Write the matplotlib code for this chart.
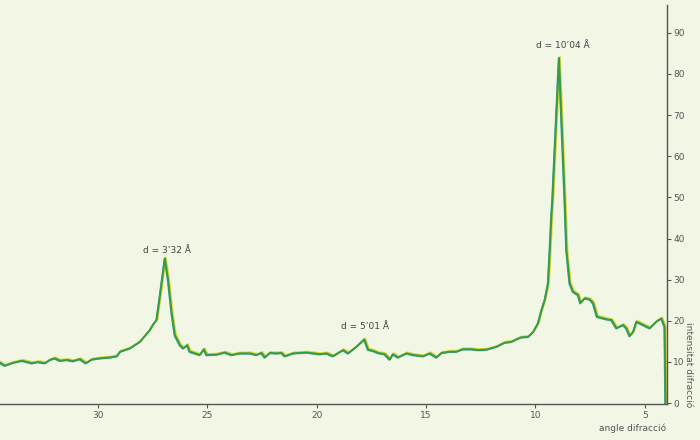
import matplotlib
matplotlib.use("Agg")
import matplotlib.pyplot as plt
import matplotlib.transforms as mtransforms

# diffraction angle (2theta, degrees) and intensity
angle = [34.48, 34.25, 33.89, 33.47, 33.02, 32.74, 32.42, 32.19, 31.97, 31.74,
         31.42, 31.14, 30.82, 30.55, 30.28, 29.91, 29.45, 29.13, 28.99, 28.54,
         28.08, 27.62, 27.49, 27.32, 27.17, 26.94, 26.79, 26.63, 26.48, 26.25,
         26.10, 25.92, 25.80, 25.34, 25.16, 25.03, 24.58, 24.20, 23.89, 23.51,
         23.05, 22.75, 22.52, 22.37, 22.14, 21.83, 21.61, 21.45, 21.07, 20.46,
         19.85, 19.55, 19.25, 18.79, 18.56, 18.18, 17.82, 17.65, 17.42, 17.19,
         16.89, 16.66, 16.51, 16.28, 15.89, 15.59, 15.13, 14.83, 14.52, 14.29,
         13.91, 13.61, 13.31, 12.92, 12.62, 12.24, 11.78, 11.40, 11.09, 10.86,
         10.64, 10.33, 10.10, 9.88, 9.72, 9.57, 9.42, 9.34, 9.27, 9.22,
         8.92, 8.66, 8.58, 8.43, 8.28, 8.05, 7.94, 7.74, 7.51, 7.36,
         7.18, 6.75, 6.52, 6.29, 5.99, 5.84, 5.69, 5.53, 5.38, 5.15,
         4.77, 4.47, 4.24, 4.09, 4.05]
intensity = [9.8, 9.1, 9.8, 10.3, 9.7, 10.0, 9.7, 10.5, 10.9, 10.3,
             10.5, 10.2, 10.7, 9.7, 10.6, 10.9, 11.1, 11.4, 12.5, 13.3,
             14.9, 17.8, 19.0, 20.2, 25.9, 35.2, 29.9, 21.9, 16.5, 14.1,
             13.3, 14.1, 12.5, 11.7, 13.1, 11.7, 11.8, 12.3, 11.7, 12.1,
             12.1, 11.7, 12.2, 11.1, 12.2, 12.1, 12.2, 11.4, 12.1, 12.3,
             11.9, 12.1, 11.4, 12.9, 12.1, 13.7, 15.5, 13.0, 12.7, 12.2,
             11.9, 10.6, 11.9, 11.1, 12.1, 11.7, 11.4, 12.1, 11.1, 12.2,
             12.5, 12.5, 13.1, 13.1, 12.9, 13.0, 13.7, 14.7, 14.9, 15.5,
             16.0, 16.1, 17.3, 19.4, 22.6, 25.1, 29.1, 37.2, 45.3, 49.4,
             83.9, 49.4, 37.2, 29.1, 27.1, 26.3, 24.3, 25.5, 25.2, 24.3,
             21.0, 20.4, 20.2, 18.2, 19.0, 18.2, 16.3, 17.3, 19.8, 19.2,
             18.2, 19.8, 20.6, 18.6, 0.0]

peak_labels = ["d = 10’04 Å", "d = 3’32 Å", "d = 5’01 Å"]
peak_label_pos = [(8.75, 87.0), (26.85, 37.2), (17.80, 18.5)]

x_ticks = [30, 25, 20, 15, 10, 5]
y_ticks = [0, 10, 20, 30, 40, 50, 60, 70, 80, 90]

bg = "#f2f6e4"
txt = "#555555"

fig = plt.figure(figsize=(7, 4.4), dpi=100, facecolor=bg)
ax = fig.add_axes([0.0, 0.082, 0.953, 0.907])
ax.set_facecolor(bg)

off = mtransforms.offset_copy(ax.transData, fig=fig, x=0.6, y=0.6, units="points")
ax.plot(angle, intensity, color="#e0d83a", lw=1.5, transform=off, solid_joinstyle="round")
off2 = mtransforms.offset_copy(ax.transData, fig=fig, x=-0.4, y=-0.4, units="points")
ax.plot(angle, intensity, color="#3aa7a0", lw=1.1, transform=off2, solid_joinstyle="round")
ax.plot(angle, intensity, color="#3a9a4a", lw=1.4, solid_joinstyle="round")

ax.set_xlim(34.48, 3.98)
ax.set_ylim(-0.2, 96.8)

for s in ["left", "top"]:
    ax.spines[s].set_visible(False)
for s in ["bottom", "right"]:
    ax.spines[s].set_color("#555555")
    ax.spines[s].set_linewidth(1.0)

ax.set_xticks(x_ticks)
ax.set_yticks(y_ticks)
ax.yaxis.tick_right()
ax.tick_params(axis="x", direction="out", length=3, width=0.8, colors="#555555",
               labelsize=6.5, labelcolor=txt, pad=2)
ax.tick_params(axis="y", direction="out", length=3, width=0.8, colors="#555555",
               labelsize=6.5, labelcolor=txt, pad=1.5)

for lab, (px, py) in zip(peak_labels, peak_label_pos):
    ax.text(px, py, lab, ha="center", va="center", fontsize=6.5, color="#444444")

fig.text(633 / 700, 1 - 428 / 440, "angle difracció", ha="center", va="center",
         fontsize=6.5, color=txt)
fig.text(688 / 700, 1 - 365 / 440, "intensitat difracció", ha="center", va="center",
         fontsize=6.5, color=txt, rotation=-90)

fig.savefig("out.png", dpi=100, facecolor=bg)
